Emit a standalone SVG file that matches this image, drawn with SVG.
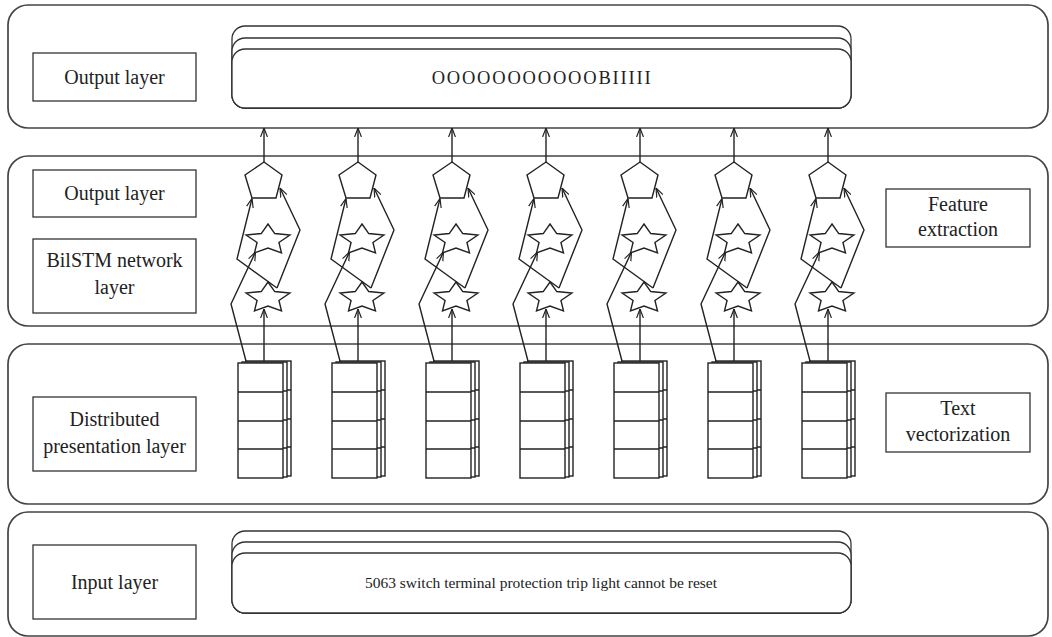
<svg xmlns="http://www.w3.org/2000/svg" xmlns:xlink="http://www.w3.org/1999/xlink" width="1052" height="637" viewBox="0 0 1052 637">
<style>
.panel{fill:none;stroke:#444;stroke-width:1.7}
.box{fill:#fff;stroke:#333;stroke-width:1.3}
.shape{fill:#fff;stroke:#222;stroke-width:1.4}
.wire{fill:none;stroke:#222;stroke-width:1.4}
.lbl{font-family:"Liberation Serif","Times New Roman",serif;font-size:20px;fill:#222;text-anchor:middle}
.seq{font-family:"Liberation Serif","Times New Roman",serif;font-size:15.5px;fill:#222;text-anchor:middle}
.seqo{font-family:"Liberation Serif","Times New Roman",serif;font-size:18.5px;letter-spacing:1.8px;fill:#222;text-anchor:middle}
</style>
<defs>
<marker id="arr" viewBox="0 0 10 10" refX="10" refY="5" markerWidth="9" markerHeight="9" markerUnits="userSpaceOnUse" orient="auto">
<path d="M0,1.2 L10,5 L0,8.8" fill="none" stroke="#222" stroke-width="1.3"/>
</marker>
<polygon id="pent" class="shape" points="264,162 282,175 276,198 252,198 245,175"/>
<polygon id="star" class="shape" points="0,-16 6.76,-6.47 21.9,-4.94 10.94,2.47 13.5,12.94 0,8 -13.5,12.94 -10.94,2.47 -21.9,-4.94 -6.76,-6.47"/>
<g id="layer">
<rect class="shape" x="0" y="0" width="45" height="115"/>
<path class="wire" d="M0,29 H45 M0,58 H45 M0,86 H45"/>
</g>
<g id="stack">
<use xlink:href="#layer" x="246" y="361"/>
<use xlink:href="#layer" x="242" y="362"/>
<use xlink:href="#layer" x="238" y="363"/>
</g>
<g id="wireset">
<path class="wire" d="M264,162 L264,128" marker-end="url(#arr)"/>
<path class="wire" d="M264,363 L264,309" marker-end="url(#arr)"/>
<path class="wire" d="M246.5,363 L231,304 L255.5,252" marker-end="url(#arr)"/>
<path class="wire" d="M277,288 L237,259 L252,198.5" marker-end="url(#arr)"/>
<path class="wire" d="M277,288 L300,230 L280,188" marker-end="url(#arr)"/>
</g>
</defs>

<g id="panels">
<rect class="panel" x="8" y="5" width="1040" height="123" rx="20"/>
<rect class="panel" x="8" y="156" width="1040" height="170" rx="20"/>
<rect class="panel" x="8" y="344" width="1040" height="160" rx="20"/>
<rect class="panel" x="8" y="512" width="1040" height="124" rx="20"/>
</g>

<g id="output-seq">
<rect class="box" x="232" y="26" width="619" height="82" rx="13"/>
<rect class="box" x="232" y="38" width="619" height="70" rx="13"/>
<rect class="box" x="232" y="49" width="619" height="59" rx="13"/>
<text class="seqo" x="542" y="84">OOOOOOOOOOOBIIIII</text>
</g>

<g id="input-seq">
<rect class="box" x="232" y="531" width="619" height="82" rx="13"/>
<rect class="box" x="232" y="542" width="619" height="71" rx="13"/>
<rect class="box" x="232" y="553" width="619" height="60" rx="13"/>
<text class="seq" x="541" y="588">5063 switch terminal protection trip light cannot be reset</text>
</g>

<g id="lbl-output-top">
<rect class="box" x="33" y="53" width="163" height="48"/>
<text class="lbl" x="114.5" y="84">Output layer</text>
</g>
<g id="lbl-output-mid">
<rect class="box" x="33" y="170" width="163" height="47"/>
<text class="lbl" x="114.5" y="200">Output layer</text>
</g>
<g id="lbl-bilstm">
<rect class="box" x="33" y="239" width="163" height="74"/>
<text class="lbl" x="114.5" y="267">BilSTM network</text>
<text class="lbl" x="114.5" y="294">layer</text>
</g>
<g id="lbl-distributed">
<rect class="box" x="33" y="397" width="163" height="74"/>
<text class="lbl" x="114.5" y="426">Distributed</text>
<text class="lbl" x="114.5" y="453">presentation layer</text>
</g>
<g id="lbl-input">
<rect class="box" x="33" y="545" width="163" height="74"/>
<text class="lbl" x="114.5" y="589">Input layer</text>
</g>
<g id="lbl-feature">
<rect class="box" x="886" y="189" width="144" height="58"/>
<text class="lbl" x="958" y="211">Feature</text>
<text class="lbl" x="958" y="236">extraction</text>
</g>
<g id="lbl-text-vec">
<rect class="box" x="886" y="393" width="144" height="59"/>
<text class="lbl" x="958" y="415">Text</text>
<text class="lbl" x="958" y="441">vectorization</text>
</g>

<g id="connectors">
<use xlink:href="#wireset"/>
<use xlink:href="#wireset" x="94"/>
<use xlink:href="#wireset" x="188"/>
<use xlink:href="#wireset" x="282"/>
<use xlink:href="#wireset" x="376"/>
<use xlink:href="#wireset" x="470"/>
<use xlink:href="#wireset" x="564"/>
</g>

<g id="col1"><use xlink:href="#pent"/><use xlink:href="#star" x="268" y="240"/><use xlink:href="#star" x="268" y="298"/><use xlink:href="#stack"/></g>
<g id="col2" transform="translate(94,0)"><use xlink:href="#pent"/><use xlink:href="#star" x="268" y="240"/><use xlink:href="#star" x="268" y="298"/><use xlink:href="#stack"/></g>
<g id="col3" transform="translate(188,0)"><use xlink:href="#pent"/><use xlink:href="#star" x="268" y="240"/><use xlink:href="#star" x="268" y="298"/><use xlink:href="#stack"/></g>
<g id="col4" transform="translate(282,0)"><use xlink:href="#pent"/><use xlink:href="#star" x="268" y="240"/><use xlink:href="#star" x="268" y="298"/><use xlink:href="#stack"/></g>
<g id="col5" transform="translate(376,0)"><use xlink:href="#pent"/><use xlink:href="#star" x="268" y="240"/><use xlink:href="#star" x="268" y="298"/><use xlink:href="#stack"/></g>
<g id="col6" transform="translate(470,0)"><use xlink:href="#pent"/><use xlink:href="#star" x="268" y="240"/><use xlink:href="#star" x="268" y="298"/><use xlink:href="#stack"/></g>
<g id="col7" transform="translate(564,0)"><use xlink:href="#pent"/><use xlink:href="#star" x="268" y="240"/><use xlink:href="#star" x="268" y="298"/><use xlink:href="#stack"/></g>
</svg>
